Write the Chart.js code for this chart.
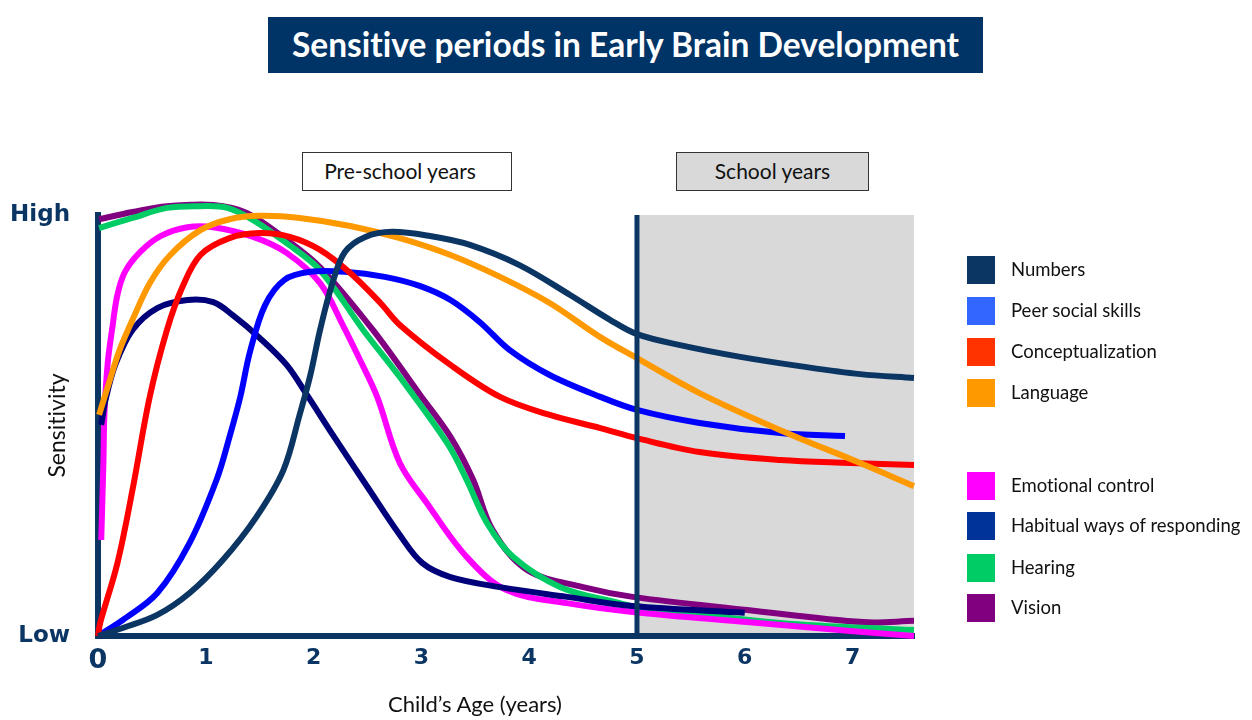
<!DOCTYPE html>
<html>
<head>
<meta charset="utf-8">
<script src="https://cdn.jsdelivr.net/npm/chart.js@4.4.0/dist/chart.umd.min.js"></script>
<style>
html,body{margin:0;padding:0;background:#fff;}
#wrap{position:relative;width:1252px;height:720px;overflow:hidden;font-family:Lato,'Open Sans',sans-serif;font-variant-ligatures:none;}
#c{position:absolute;left:0;top:0;}
#title{position:absolute;left:268px;top:17px;width:715px;height:56px;background:#003366;color:#fff;font-weight:700;font-size:33.5px;line-height:54px;text-align:center;white-space:nowrap;}
.period{position:absolute;top:152px;height:39px;border:1.5px solid #333;box-sizing:border-box;font-size:21px;line-height:36px;text-align:center;color:#111;}
#pre{left:302px;width:210px;background:#fff;padding-right:14px;}
#school{left:676px;width:193px;background:#d9d9d9;}
#xtitle{position:absolute;left:325px;width:300px;top:690px;text-align:center;font-size:22px;color:#111;}
.lg{position:absolute;left:967px;height:28px;font-size:18.5px;color:#111;white-space:nowrap;}
.lg span.sw{position:absolute;left:0;top:0;width:28px;height:28px;}
.lg span.tx{position:absolute;left:44px;top:2px;}
</style>
</head>
<body>
<div id="wrap">
  <canvas id="c" width="1252" height="720"></canvas>
  <div id="title">Sensitive periods in Early Brain Development</div>
  <div class="period" id="pre">Pre-school years</div>
  <div class="period" id="school">School years</div>
  <div id="xtitle">Child’s Age (years)</div>
  <div id="legend"></div>
</div>
<script>
// ---- data (age in years, sensitivity 0 = Low, 100 = High) ----
const seriesNames = ['Numbers','Peer social skills','Conceptualization','Language','Emotional control','Habitual ways of responding','Hearing','Vision'];
const xTickLabels = ['0','1','2','3','4','5','6','7'];
const yTickValues = [0, 100];
const yTickLabels = ['Low', 'High'];
const schoolStartAge = 5;

const numbers = [[0,0],[0.23,1.9],[0.55,5.0],[0.85,10.2],[1.16,18.1],[1.47,28.3],[1.72,39.4],[1.87,52.5],[1.97,62.0],[2.06,72.7],[2.17,83.4],[2.29,91.2],[2.48,94.8],[2.73,96.0],[3.08,95.0],[3.45,92.9],[3.91,88.1],[4.38,81.0],[4.75,75.1],[5.0,71.7],[5.4,69.1],[5.96,66.3],[6.51,64.1],[7.07,62.2],[7.57,61.3]];
const peerSocial = [[0,0],[0.23,3.8],[0.55,10.2],[0.85,22.1],[1.10,37.1],[1.22,47.3],[1.32,56.8],[1.41,67.5],[1.55,78.6],[1.73,84.6],[1.97,86.5],[2.29,86.5],[2.66,85.3],[2.99,83.1],[3.27,79.8],[3.54,74.6],[3.82,67.9],[4.19,62.0],[4.66,56.8],[5.0,53.7],[5.58,50.6],[6.33,48.2],[6.93,47.5]];
const conceptualization = [[0,0],[0.02,3.1],[0.18,17.3],[0.32,34.7],[0.48,56.8],[0.64,72.7],[0.78,82.7],[0.95,90.5],[1.22,94.5],[1.50,95.7],[1.78,94.8],[2.06,91.7],[2.34,86.2],[2.62,79.1],[2.80,73.9],[3.27,64.4],[3.73,56.8],[4.19,52.5],[4.66,49.4],[5.0,47.0],[5.58,43.7],[6.33,41.8],[6.98,41.1],[7.57,40.6]];
const language = [[0.01,52.5],[0.11,60.8],[0.20,67.9],[0.32,75.1],[0.48,83.8],[0.67,90.5],[0.95,96.4],[1.22,99.0],[1.50,99.8],[1.87,99.3],[2.34,97.4],[2.80,94.5],[3.27,90.5],[3.73,85.3],[4.19,79.1],[4.66,71.0],[5.0,66.0],[5.58,57.7],[6.33,48.9],[7.07,41.1],[7.57,35.6]];
const emotional = [[0.03,22.8],[0.05,41.1],[0.06,53.0],[0.09,64.8],[0.13,72.7],[0.18,81.0],[0.25,86.5],[0.39,91.2],[0.58,95.0],[0.83,97.1],[1.07,97.1],[1.44,94.8],[1.75,91.0],[2.06,83.8],[2.27,73.9],[2.43,65.6],[2.59,56.8],[2.80,41.1],[3.05,31.6],[3.42,18.8],[3.79,10.9],[4.35,7.8],[4.96,5.7],[6.02,3.3],[6.98,1.2],[7.57,0]];
const habitual = [[0.03,50.1],[0.07,56.1],[0.16,64.4],[0.32,72.7],[0.55,77.9],[0.83,79.8],[1.07,79.3],[1.25,76.2],[1.50,70.8],[1.75,64.4],[1.94,57.2],[2.18,47.7],[2.50,35.4],[2.80,24.0],[3.01,17.3],[3.27,14.0],[3.73,11.6],[4.35,9.3],[4.96,7.1],[6.00,5.5]];
const hearing = [[0.01,96.9],[0.32,99.3],[0.64,101.7],[0.95,102.1],[1.20,101.7],[1.44,98.8],[1.75,93.3],[2.06,86.9],[2.46,72.7],[2.80,61.5],[3.24,45.8],[3.42,37.1],[3.61,26.8],[3.85,18.8],[4.29,11.6],[4.84,7.8],[5.0,6.9],[6.33,3.1],[7.57,1.4]];
const vision = [[0.01,99.0],[0.32,100.7],[0.64,102.1],[1.07,102.4],[1.38,100.5],[1.75,94.1],[2.06,87.6],[2.55,72.7],[2.99,57.2],[3.27,47.3],[3.48,37.1],[3.66,25.2],[3.98,15.7],[4.50,11.6],[4.96,9.3],[6.02,6.2],[7.10,3.3],[7.57,3.6]];

const seriesData = [numbers, peerSocial, conceptualization, language, emotional, habitual, hearing, vision];
const lineColors = ['#0b3563','#0000ff','#ff0000','#ff9900','#ff00ff','#00007a','#00cc66','#800080'];
const legendColors = ['#0b3664','#3366ff','#ff3300','#ff9900','#ff00ff','#003399','#00cc66','#800080'];
const drawOrder = [1,4,3,2,6,5,7,8];
const legendTops = [256,297,338,379,472,512,554,594];

// ---- legend (HTML) ----
const lg = document.getElementById('legend');
seriesNames.forEach((n,i)=>{
  const d = document.createElement('div');
  d.className='lg'; d.style.top = legendTops[i]+'px';
  d.innerHTML = '<span class="sw" style="background:'+legendColors[i]+'"></span><span class="tx"></span>';
  d.querySelector('.tx').textContent = n;
  lg.appendChild(d);
});

const axisColor = '#0b3563';

const schoolBand = {
  id:'schoolBand',
  beforeDraw(chart){
    const {ctx, chartArea:a, scales:{x}} = chart;
    const x5 = x.getPixelForValue(schoolStartAge);
    ctx.save();
    ctx.fillStyle = '#d9d9d9';
    ctx.fillRect(x5, a.top, a.right - x5, a.bottom - a.top);
    ctx.restore();
  },
  afterDatasetsDraw(chart){
    const {ctx, chartArea:a, scales:{x}} = chart;
    const x5 = x.getPixelForValue(schoolStartAge);
    ctx.save();
    ctx.strokeStyle = axisColor;
    ctx.lineWidth = 5;
    ctx.beginPath();
    ctx.moveTo(x5, a.top);
    ctx.lineTo(x5, a.bottom + 3);
    ctx.stroke();
    ctx.restore();
  }
};

new Chart(document.getElementById('c'), {
  type:'line',
  data:{
    datasets: seriesNames.map((n,i)=>({
      label:n,
      data: seriesData[i].map(p=>({x:p[0], y:p[1]})),
      borderColor: lineColors[i],
      backgroundColor: lineColors[i],
      borderWidth: 6,
      pointRadius: 0,
      tension: 0.35,
      borderJoinStyle: 'round',
      fill:false,
      clip:false,
      order: drawOrder[i]
    }))
  },
  options:{
    responsive:false,
    animation:false,
    layout:{padding:{left:0, top:215, right:338, bottom:0}},
    plugins:{legend:{display:false}, tooltip:{enabled:false}},
    scales:{
      x:{
        type:'linear', min:0, max:7.57,
        grid:{display:false, drawTicks:false},
        border:{display:true, width:6, color:axisColor},
        afterBuildTicks(s){ s.ticks = xTickLabels.map((t,i)=>({value:i})); },
        afterFit(s){ s.height = 84; },
        ticks:{
          autoSkip:false, maxRotation:0, padding:9, color:axisColor,
          font:(c)=> (c.tick && c.tick.value===0) ? {family:'DejaVu Sans', size:27, weight:'bold'} : {family:'DejaVu Sans', size:22, weight:'bold'},
          callback:(v)=> xTickLabels[v] !== undefined ? xTickLabels[v] : ''
        }
      },
      y:{
        type:'linear', min:0, max:100,
        grid:{display:false, drawTicks:false},
        border:{display:true, width:6, color:axisColor},
        afterBuildTicks(s){ s.ticks = yTickValues.map(v=>({value:v})); },
        afterFit(s){ s.width = 98; },
        ticks:{
          padding:28, color:axisColor,
          font:{family:'DejaVu Sans', size:23, weight:'bold'},
          callback:(v)=>{ const k = yTickValues.indexOf(v); return k>=0 ? yTickLabels[k] : ''; }
        },
        title:{display:true, text:'Sensitivity', color:'#111', font:{family:'Lato', size:23}, padding:{top:44, bottom:0}}
      }
    }
  },
  plugins:[schoolBand]
});
</script>
</body>
</html>
